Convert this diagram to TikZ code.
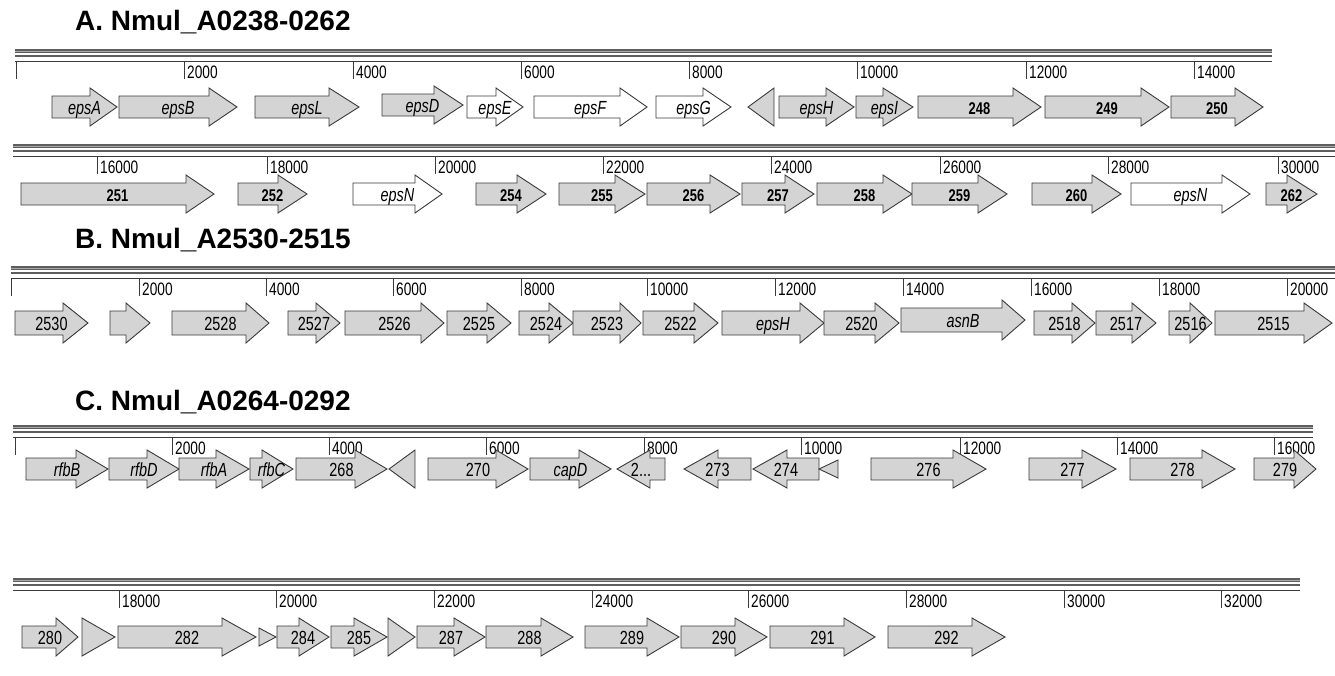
\documentclass[tikz,border=0pt]{standalone}
\usepackage{fontspec}
\setmainfont{Liberation Sans}
\newfontfamily\narrowfont[FakeStretch=0.76]{Liberation Sans}
\usetikzlibrary{positioning}
\definecolor{geneline}{HTML}{3A3A3A}
\definecolor{genegray}{HTML}{D4D4D4}
\definecolor{bandgray}{HTML}{5E5E5E}
\definecolor{bandlight}{HTML}{A8A8A8}
\tikzset{
  grey/.style     ={draw=geneline,line width=0.9pt,fill=genegray,line join=miter},
  open/.style     ={draw=geneline,line width=0.9pt,fill=white,line join=miter},
  glabel/.style   ={font=\narrowfont\fontsize{19}{19}\selectfont,inner sep=0pt,anchor=base},
  ticklabel/.style={font=\narrowfont\fontsize{18}{18}\selectfont,inner sep=0pt,
                    anchor=base west},
  title/.style    ={font=\bfseries\fontsize{28}{28}\selectfont,anchor=west,inner sep=0pt},
  band/.style     ={draw=bandgray,line width=4pt},
  bandmid/.style  ={draw=bandlight,line width=0.8pt},
  bandthin/.style ={draw=bandgray,line width=1.2pt},
  rule/.style     ={draw=geneline,line width=0.9pt}
}
\def\genebody{11}
\def\genehead{19}
% forward gene: [style]{name}{start}{head start}{tip}{y}{label}
\newcommand{\fgene}[7][grey]{%
  \draw[#1] (#3,#6-\genebody) -- (#4,#6-\genebody) -- (#4,#6-\genehead) -- (#5,#6)
    -- (#4,#6+\genehead) -- (#4,#6+\genebody) -- (#3,#6+\genebody) -- cycle;
  \node[glabel] (#2) at ({(#3+#5)/2},#6+7) {#7};}
% reverse gene: [style]{name}{tip}{head base}{end}{y}{label}
\newcommand{\rgene}[7][grey]{%
  \draw[#1] (#3,#6) -- (#4,#6-\genehead) -- (#4,#6-\genebody) -- (#5,#6-\genebody)
    -- (#5,#6+\genebody) -- (#4,#6+\genebody) -- (#4,#6+\genehead) -- cycle;
  \node[glabel] (#2) at ({(#3+#5)/2},#6+7) {#7};}
\newcommand{\numA}[1]{{\bfseries\fontsize{17}{17}\selectfont #1}}
% scale bar: {x start}{x end}{band y}{ticks x/label}{prefix}
\newcommand{\scalebar}[5]{%
  \draw[band] (#1,#3) -- (#2,#3);
  \draw[bandmid] (#1,#3) -- (#2,#3);
  \draw[bandthin] (#1,#3+5) -- (#2,#3+5);
  \draw[rule] (#1,#3+10) -- (#2,#3+10);
  \foreach \x/\t in {#4}{
    \draw[rule] (\x,#3+10) -- (\x,#3+28);
    \node[ticklabel] (#5\t) at (\x+3,#3+27) {\t};}}

\begin{document}
\begin{tikzpicture}[x=1pt,y=-1pt]
\useasboundingbox (0,0) rectangle (1335,675);

% ---- A
\node[title] (titleA) at (75,22) {A. Nmul\_A0238-0262};
\scalebar{15}{1272}{51}{184/2000,353/4000,521/6000,689/8000,857/10000,1026/12000,1194/14000}{a}
\draw[rule] (16,61) -- (16,79);
\fgene{aepsA}{52}{90}{117}{107}{\textit{epsA}}
\fgene{aepsB}{119}{209}{237}{107}{\textit{epsB}}
\fgene{aepsL}{255}{329}{359}{107}{\textit{epsL}}
\fgene{aepsD}{382}{434}{463}{105}{\textit{epsD}}
\fgene[open]{aepsE}{467}{496}{523}{107}{\textit{epsE}}
\fgene[open]{aepsF}{534}{620}{647}{107}{\textit{epsF}}
\fgene[open]{aepsG}{656}{703}{731}{107}{\textit{epsG}}
\rgene{a245}{748}{774}{774}{107}{}
\fgene{aepsH}{779}{826}{854}{107}{\textit{epsH}}
\fgene{aepsI}{856}{883}{913}{107}{\textit{epsI}}
\fgene{a248}{918}{1013}{1041}{107}{\numA{248}}
\fgene{a249}{1045}{1141}{1169}{107}{\numA{249}}
\fgene{a250}{1171}{1235}{1263}{107}{\numA{250}}

\scalebar{13}{1335}{146}{97/16000,267/18000,435/20000,603/22000,771/24000,940/26000,1108/28000,1278/30000}{a}
\fgene{a251}{21}{186}{214}{194}{\numA{251}}
\fgene{a252}{238}{278}{307}{194}{\numA{252}}
\fgene[open]{aepsN}{353}{415}{442}{194}{\textit{epsN}}
\fgene{a254}{476}{517}{546}{194}{\numA{254}}
\fgene{a255}{559}{615}{645}{194}{\numA{255}}
\fgene{a256}{647}{710}{740}{194}{\numA{256}}
\fgene{a257}{742}{785}{814}{194}{\numA{257}}
\fgene{a258}{817}{883}{912}{194}{\numA{258}}
\fgene{a259}{912}{978}{1007}{194}{\numA{259}}
\fgene{a260}{1032}{1092}{1121}{194}{\numA{260}}
\fgene[open]{aepsNb}{1131}{1222}{1250}{194}{\textit{epsN}}
\fgene{a262}{1266}{1287}{1317}{194}{\numA{262}}

% ---- B
\node[title] (titleB) at (75,240) {B. Nmul\_A2530-2515};
\scalebar{11}{1335}{268}{139/2000,266/4000,393/6000,521/8000,647/10000,775/12000,903/14000,1031/16000,1159/18000,1287/20000}{b}
\draw[rule] (11,278) -- (11,296);
\def\genebody{12}
\def\genehead{20}
\fgene{b2530}{15}{63}{88}{323}{2530}
\fgene{b2529}{110}{126}{150}{323}{}
\fgene{b2528}{172}{246}{269}{323}{2528}
\fgene{b2527}{288}{316}{340}{323}{2527}
\fgene{b2526}{345}{421}{444}{323}{2526}
\fgene{b2525}{447}{487}{511}{323}{2525}
\fgene{b2524}{519}{549}{573}{323}{2524}
\fgene{b2523}{573}{620}{641}{323}{2523}
\fgene{b2522}{643}{694}{718}{323}{2522}
\fgene{bepsH}{722}{800}{824}{323}{\textit{epsH}}
\fgene{b2520}{824}{875}{899}{323}{2520}
\fgene{basnB}{901}{1002}{1025}{320}{\textit{asnB}}
\fgene{b2518}{1034}{1072}{1095}{323}{2518}
\fgene{b2517}{1096}{1132}{1156}{323}{2517}
\fgene{b2516}{1169}{1190}{1212}{323}{2516}
\fgene{b2515}{1215}{1304}{1332}{323}{2515}

% ---- C
\node[title] (titleC) at (75,402) {C. Nmul\_A0264-0292};
\scalebar{13}{1313}{427}{172/2000,329/4000,486/6000,644/8000,801/10000,960/12000,1117/14000,1274/16000}{c}
\draw[rule] (15,437) -- (15,455);
\def\genebody{11}
\def\genehead{19}
\fgene{crfbB}{26}{76}{108}{469}{\textit{rfbB}}
\fgene{crfbD}{109}{147}{179}{469}{\textit{rfbD}}
\fgene{crfbA}{179}{216}{249}{469}{\textit{rfbA}}
\fgene{crfbC}{250}{262}{293}{469}{\textit{rfbC}}
\fgene{c268}{296}{355}{387}{469}{268}
\rgene{c269}{389}{415}{415}{469}{}
\fgene{c270}{428}{496}{528}{469}{270}
\fgene{ccapD}{530}{579}{611}{469}{\textit{capD}}
\rgene{c272}{617}{650}{665}{469}{2...}
\rgene{c273}{684}{718}{751}{469}{273}
\rgene{c274}{753}{787}{819}{469}{274}
\draw[grey] (819,469) -- (838,460) -- (838,478) -- cycle;
\fgene{c276}{871}{953}{986}{469}{276}
\fgene{c277}{1029}{1082}{1116}{469}{277}
\fgene{c278}{1130}{1202}{1235}{469}{278}
\fgene{c279}{1254}{1294}{1316}{469}{279}

\scalebar{13}{1300}{580}{119/18000,276/20000,434/22000,592/24000,748/26000,906/28000,1064/30000,1221/32000}{c}
\fgene{c280}{22}{56}{78}{637}{280}
\fgene{c281}{82}{82}{115}{637}{}
\fgene{c282}{118}{222}{256}{637}{282}
\draw[grey] (259,628) -- (276,637) -- (259,646) -- cycle;
\fgene{c284}{277}{299}{329}{637}{284}
\fgene{c285}{331}{354}{387}{637}{285}
\fgene{c286}{388}{388}{415}{637}{}
\fgene{c287}{417}{454}{485}{637}{287}
\fgene{c288}{486}{541}{573}{637}{288}
\fgene{c289}{585}{647}{679}{637}{289}
\fgene{c290}{681}{735}{767}{637}{290}
\fgene{c291}{770}{844}{875}{637}{291}
\fgene{c292}{888}{972}{1005}{637}{292}
\end{tikzpicture}
\end{document}
